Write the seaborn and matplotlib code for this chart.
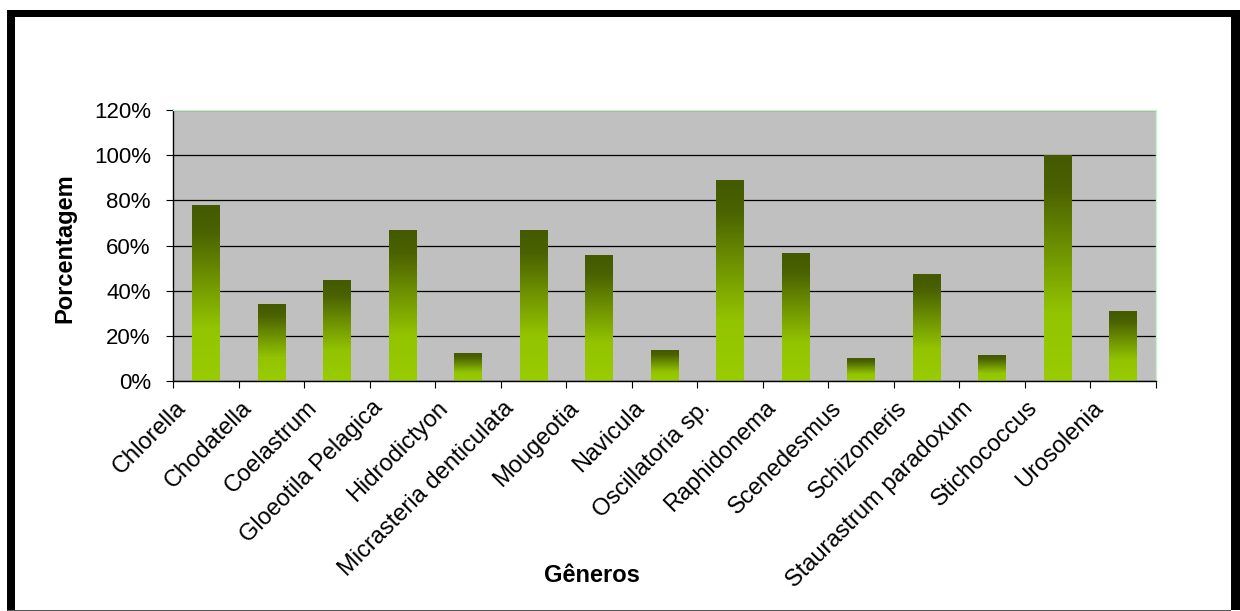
"""
Porcentagem de ocorrência por gênero de alga
Bar chart with Excel-like gradient bars
"""

import numpy as np
import pandas as pd
import matplotlib

matplotlib.use("Agg")
import matplotlib.pyplot as plt
import matplotlib.transforms as mtransforms
import seaborn as sns
from matplotlib.colors import LinearSegmentedColormap
from matplotlib.patches import Rectangle
from matplotlib.ticker import FuncFormatter

# Data
generos = [
    "Chlorella",
    "Chodatella",
    "Coelastrum",
    "Gloeotila Pelagica",
    "Hidrodictyon",
    "Micrasteria denticulata",
    "Mougeotia",
    "Navicula",
    "Oscillatoria sp.",
    "Raphidonema",
    "Scenedesmus",
    "Schizomeris",
    "Staurastrum paradoxum",
    "Stichococcus",
    "Urosolenia",
]
porcentagem = [77.8, 33.9, 44.4, 66.7, 12.3, 66.7, 55.6, 13.3, 88.9, 56.4,
               10.0, 47.1, 11.1, 100.0, 30.8]
y_ticks = [0, 20, 40, 60, 80, 100, 120]

df = pd.DataFrame({"Gênero": generos, "Porcentagem": porcentagem})

sns.set_style("white")
plt.rcParams["font.family"] = ["Liberation Sans", "DejaVu Sans"]
plt.rcParams["text.color"] = "black"
plt.rcParams["axes.labelcolor"] = "black"

W, H = 1240, 611
fig = plt.figure(figsize=(W / 100, H / 100), dpi=100)
ax = fig.add_axes([173 / W, 1 - 381 / H, (1156 - 173) / W, (381 - 110) / H])
ax.set_facecolor("#c0c0c0")

sns.barplot(data=df, x="Gênero", y="Porcentagem", color="#99cc00",
            width=0.42, saturation=1, linewidth=0, ax=ax, zorder=2)

# Gradient fill for each bar (light at bottom, dark olive at top)
grad_cmap = LinearSegmentedColormap.from_list(
    "verde",
    [(0.0, "#99cc00"), (0.3, "#93c400"), (0.6, "#6c8f00"),
     (0.85, "#4a6200"), (1.0, "#445900")],
)
grad = np.linspace(0, 1, 256).reshape(-1, 1)
for bar in ax.patches:
    x0 = bar.get_x()
    w = bar.get_width()
    h = bar.get_height()
    ax.imshow(grad, extent=[x0, x0 + w, 0, h], origin="lower",
              cmap=grad_cmap, aspect="auto", zorder=2.5, interpolation="bilinear")

ax.set_aspect("auto")
ax.set_xlim(-0.5, len(generos) - 0.5)
ax.set_ylim(0, 120)

# Axes, ticks and grid
ax.set_yticks(y_ticks)
ax.yaxis.set_major_formatter(FuncFormatter(lambda v, p: f"{v:.0f}%"))
ax.yaxis.grid(True, color="black", linewidth=0.9)
ax.set_axisbelow(True)
ax.tick_params(axis="y", direction="out", length=5, width=0.8, color="black",
               pad=11, labelsize=16, labelcolor="black", left=True)

ax.set_xticks(np.arange(-0.5, len(generos), 1.0), minor=True)
ax.tick_params(axis="x", which="minor", direction="out", length=5, width=0.8,
               color="black", bottom=True)
ax.tick_params(axis="x", which="major", length=0, pad=17, labelsize=17,
               labelcolor="black")
plt.setp(ax.get_xticklabels(), rotation=45, ha="right", va="center",
         rotation_mode="anchor")
offset = mtransforms.ScaledTranslation(-0.23, 0, fig.dpi_scale_trans)
for lbl in ax.get_xticklabels():
    lbl.set_transform(lbl.get_transform() + offset)

for side in ["left", "bottom"]:
    ax.spines[side].set_color("black")
    ax.spines[side].set_linewidth(1.0)
for side in ["top", "right"]:
    ax.spines[side].set_color("#c8f0c8")
    ax.spines[side].set_linewidth(1.0)

ax.set_ylabel("Porcentagem", fontsize=17, fontweight="bold", color="black")
ax.yaxis.set_label_coords((65 - 173) / 983, 0.49)
ax.yaxis.label.set_va("center")
ax.set_xlabel("Gêneros", fontsize=17, fontweight="bold", color="black")
ax.xaxis.set_label_coords((592 - 173) / 983, (381 - 575) / 271)
ax.xaxis.label.set_va("center")

# Figure frame (thick black band top/left/right, thin line at bottom)
frame_style = dict(transform=fig.transFigure, color="black", zorder=10,
                   linewidth=0)
fig.patches.append(Rectangle((7 / W, 1 - 17 / H), 1 - 7 / W, 7 / H, **frame_style))
fig.patches.append(Rectangle((7 / W, 1 - 610 / H), 8 / W, 600 / H, **frame_style))
fig.patches.append(Rectangle((1231 / W, 1 - 610 / H), 9 / W, 600 / H, **frame_style))
fig.patches.append(Rectangle((7 / W, 1 - 611 / H), 1224 / W, 1.5 / H,
                             transform=fig.transFigure, color="#555555",
                             zorder=10, linewidth=0))

fig.savefig("out.png", dpi=100)
plt.close(fig)
